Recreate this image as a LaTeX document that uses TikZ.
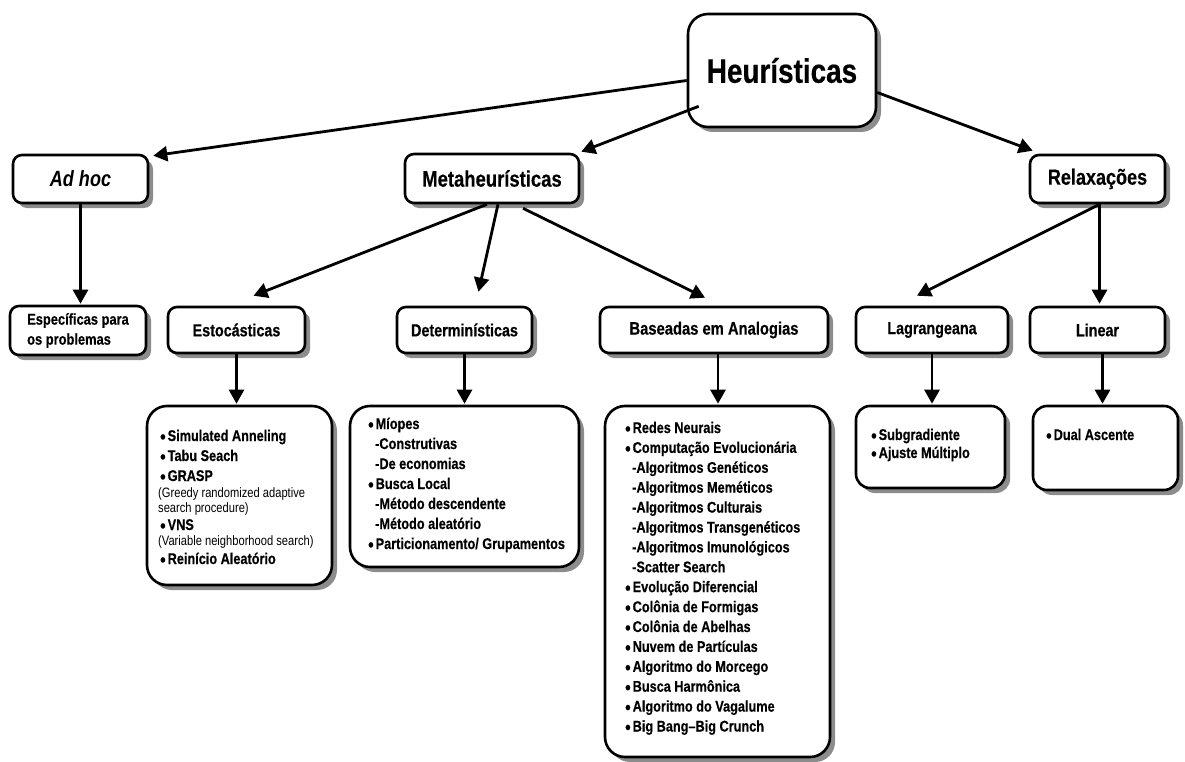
\documentclass[tikz,border=0pt]{standalone}
\usepackage{fontspec}
\setmainfont{Liberation Sans}[FakeStretch=0.82, BoldFeatures={FakeBold=0.4}]
\usetikzlibrary{arrows.meta,shadows}
\newcommand\itembul{\makebox[7.5pt][l]{\raisebox{-2.2pt}{\fontsize{19}{19}\selectfont\textbullet}}}
\newcommand\itemsub{\hspace*{7pt}}

\begin{document}
\begin{tikzpicture}[x=1pt,y=-1pt,
  box/.style={draw=black, line width=2.6pt, fill=white, rounded corners=9pt,
    drop shadow={shadow xshift=5pt,shadow yshift=-5pt,fill=black!45,opacity=1},
    inner sep=0pt, font=\bfseries},
  listbox/.style={box, rounded corners=20pt},
  arr/.style={line width=2.8pt, -{Triangle[length=14pt,width=15pt]}},
  item/.style={anchor=base west, inner sep=0pt, font=\bfseries\fontsize{15.5}{17}\selectfont},
  note/.style={anchor=base west, inner sep=0pt, font=\fontsize{13.6}{15}\selectfont},
]
\useasboundingbox (0,0) rectangle (1185,762);

% ---- top level ----
\node[box, rounded corners=20pt, minimum width=188pt, minimum height=113pt,
  font=\bfseries\fontsize{34}{40}\selectfont] (heur) at (782,70.5) {Heurísticas};

\node[box, minimum width=135pt, minimum height=48pt,
  font=\bfseries\itshape\fontsize{22}{24}\selectfont] (adhoc) at (80.5,179) {Ad hoc};
\node[box, minimum width=174pt, minimum height=49pt,
  font=\bfseries\fontsize{22.5}{24}\selectfont] (meta) at (492,178.5) {Metaheurísticas};
\node[box, minimum width=135pt, minimum height=48pt,
  font=\bfseries\fontsize{22}{24}\selectfont] (relax) at (1097.5,179) {Relaxações};

% ---- second level ----
\node[box, minimum width=136pt, minimum height=49pt, align=left,
  font=\bfseries\fontsize{15.7}{20}\selectfont] (espec) at (78,330.5) {Específicas para\\os problemas};
\node[box, minimum width=137pt, minimum height=46pt,
  font=\bfseries\fontsize{17.5}{20}\selectfont] (estoc) at (236.5,330) {Estocásticas};
\node[box, minimum width=135pt, minimum height=46pt,
  font=\bfseries\fontsize{17.5}{20}\selectfont] (determ) at (464.5,330) {Determinísticas};
\node[box, minimum width=228pt, minimum height=46pt,
  font=\bfseries\fontsize{18}{20}\selectfont] (analog) at (714,330) {Baseadas em Analogias};
\node[box, minimum width=152pt, minimum height=46pt,
  font=\bfseries\fontsize{17.5}{20}\selectfont] (lagr) at (932,330) {Lagrangeana};
\node[box, minimum width=135pt, minimum height=46pt,
  font=\bfseries\fontsize{17.5}{20}\selectfont] (linear) at (1097.5,330) {Linear};

% ---- list boxes ----
\node[listbox, minimum width=185pt, minimum height=179pt] (estL) at (239.5,495.5) {};
\node[listbox, minimum width=229pt, minimum height=161pt] (detL) at (464.5,486.5) {};
\node[listbox, minimum width=225pt, minimum height=351pt] (anaL) at (717.5,581.5) {};
\node[listbox, rounded corners=14pt, minimum width=149pt, minimum height=82pt] (lagL) at (930.5,447) {};
\node[listbox, rounded corners=14pt, minimum width=145pt, minimum height=84pt] (linL) at (1105.5,448) {};

% ---- connectors ----
\draw[arr] ([yshift=-10pt]heur.west) -- ([shift={(4pt,-2pt)}]adhoc.north east);
\draw[arr] ([shift={(12pt,22pt)}]heur.south west) -- ([shift={(1pt,1pt)}]meta.north east);
\draw[arr] ([yshift=-22pt]heur.east) -- ([shift={(4pt,3pt)}]relax.north west);
\draw[arr] (adhoc.south) -- ([yshift=1pt]adhoc.south |- espec.north);
\draw[arr] ([xshift=-5pt]meta.south) -- ([shift={(17pt,10pt)}]estoc.north);
\draw[arr] ([xshift=6pt]meta.south) -- ([shift={(14pt,14pt)}]determ.north);
\draw[arr] ([shift={(31pt,-4pt)}]meta.south) -- ([shift={(-9pt,8pt)}]analog.north);
\draw[arr] ([xshift=2pt]relax.south) -- ([shift={(-15pt,10pt)}]lagr.north);
\draw[arr] ([xshift=2pt]relax.south) -- ([shift={(2pt,2pt)}]relax.south |- linear.north);
\draw[arr] (estoc.south) -- ([yshift=1pt]estoc.south |- estL.north);
\draw[arr] (determ.south) -- ([yshift=1pt]determ.south |- detL.north);
\draw[arr] ([xshift=4pt]analog.south) -- ([shift={(4pt,1pt)}]analog.south |- anaL.north);
\draw[arr] (lagr.south) -- ([yshift=1pt]lagr.south |- lagL.north);
\draw[arr] ([xshift=5pt]linear.south) -- ([shift={(5pt,1pt)}]linear.south |- linL.north);

% ---- Estocásticas items ----
\node[item] (e1) at (160,441) {\itembul Simulated Anneling};
\node[item] (e2) at (160,461) {\itembul Tabu Seach};
\node[item] (e3) at (160,481) {\itembul GRASP};
\node[note] (e4) at (158,497.5) {(Greedy randomized adaptive};
\node[note] (e5) at (158,512) {search procedure)};
\node[item] (e6) at (160,530) {\itembul VNS};
\node[note] (e7) at (158,545.5) {(Variable neighborhood search)};
\node[item] (e8) at (160,564) {\itembul Reinício Aleatório};

% ---- Determinísticas items ----
\foreach \t [count=\i] in {
  {\itembul Míopes},
  {\itemsub -Construtivas},
  {\itemsub -De economias},
  {\itembul Busca Local},
  {\itemsub -Método descendente},
  {\itemsub -Método aleatório},
  {\itembul Particionamento/ Grupamentos}}
  \node[item] (d\i) at (368,{429+(\i-1)*20}) {\t};

% ---- Baseadas em Analogias items ----
\foreach \t [count=\i] in {
  {\itembul Redes Neurais},
  {\itembul Computação Evolucionária},
  {\itemsub -Algoritmos Genéticos},
  {\itemsub -Algoritmos Meméticos},
  {\itemsub -Algoritmos Culturais},
  {\itemsub -Algoritmos Transgenéticos},
  {\itemsub -Algoritmos Imunológicos},
  {\itemsub -Scatter Search},
  {\itembul Evolução Diferencial},
  {\itembul Colônia de Formigas},
  {\itembul Colônia de Abelhas},
  {\itembul Nuvem de Partículas},
  {\itembul Algoritmo do Morcego},
  {\itembul Busca Harmônica},
  {\itembul Algoritmo do Vagalume},
  {\itembul Big Bang--Big Crunch}}
  \node[item] (a\i) at (625,{433+(\i-1)*19.9}) {\t};

% ---- Relaxações items ----
\node[item] (l1) at (871,440) {\itembul Subgradiente};
\node[item] (l2) at (871,458) {\itembul Ajuste Múltiplo};
\node[item] (n1) at (1046,440) {\itembul Dual Ascente};
\end{tikzpicture}
\end{document}
